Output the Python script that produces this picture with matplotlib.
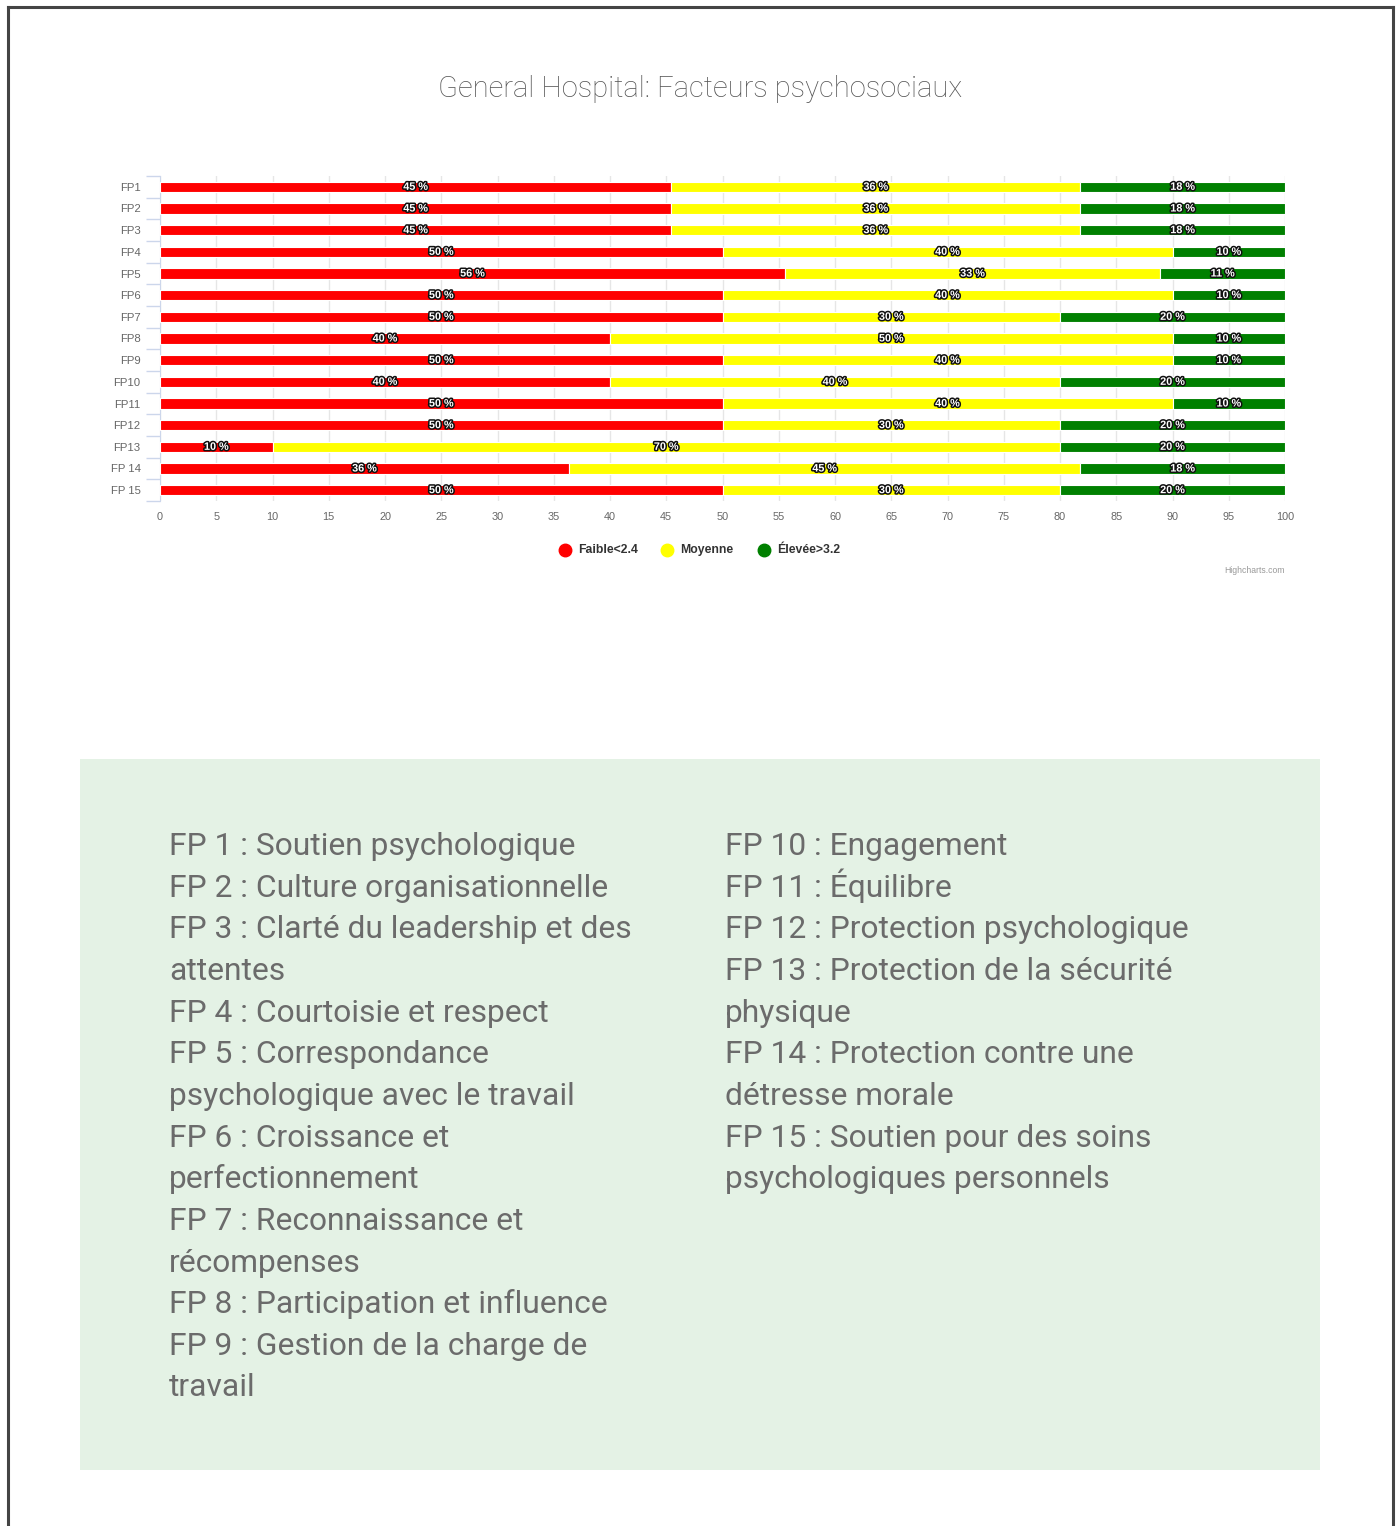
import matplotlib.pyplot as plt
import matplotlib.patheffects as pe
from matplotlib.lines import Line2D
from matplotlib.patches import Rectangle
import numpy as np

W, H = 1397, 1526

categories = ["FP1", "FP2", "FP3", "FP4", "FP5", "FP6", "FP7", "FP8", "FP9",
              "FP10", "FP11", "FP12", "FP13", "FP 14", "FP 15"]
faible = [45.45, 45.45, 45.45, 50, 55.56, 50, 50, 40, 50, 40, 50, 50, 10, 36.36, 50]
moyenne = [36.36, 36.36, 36.36, 40, 33.33, 40, 30, 50, 40, 40, 40, 30, 70, 45.45, 30]
elevee = [18.18, 18.18, 18.18, 10, 11.11, 10, 20, 10, 10, 20, 10, 20, 20, 18.18, 20]

series_names = ["Faible<2.4", "Moyenne", "Élevée>3.2"]
series_colors = ["#ff0000", "#ffff00", "#008000"]

left_notes = ["FP 1 : Soutien psychologique",
              "FP 2 : Culture organisationnelle",
              "FP 3 : Clarté du leadership et des",
              "attentes",
              "FP 4 : Courtoisie et respect",
              "FP 5 : Correspondance",
              "psychologique avec le travail",
              "FP 6 : Croissance et",
              "perfectionnement",
              "FP 7 : Reconnaissance et",
              "récompenses",
              "FP 8 : Participation et influence",
              "FP 9 : Gestion de la charge de",
              "travail"]
right_notes = ["FP 10 : Engagement",
               "FP 11 : Équilibre",
               "FP 12 : Protection psychologique",
               "FP 13 : Protection de la sécurité",
               "physique",
               "FP 14 : Protection contre une",
               "détresse morale",
               "FP 15 : Soutien pour des soins",
               "psychologiques personnels"]


def fx(x):
    return x / W


def fy(y):
    return 1 - y / H


fig = plt.figure(figsize=(W / 100, H / 100), dpi=100)
fig.patch.set_facecolor("white")

# page border
for xs, ys in [([8, 8], [7, H]), ([8, 1393], [7, 7]), ([1393, 1393], [7, H])]:
    fig.add_artist(Line2D([fx(v) for v in xs], [fy(v) for v in ys],
                          color="#444444", lw=2.2))

# chart
ax = fig.add_axes([fx(160), fy(501), fx(1285) - fx(160), (501 - 176) / H])
y = np.arange(len(categories))
data = [faible, moyenne, elevee]
lefts = np.zeros(len(categories))
for vals, name, col in zip(data, series_names, series_colors):
    vals = np.array(vals)
    ax.barh(y, vals, left=lefts, height=0.48, color=col, edgecolor="white",
            linewidth=0.8, label=name, zorder=3)
    for yi, (l, v) in enumerate(zip(lefts, vals)):
        t = ax.text(l + v / 2, yi, f"{v:.0f} %", ha="center", va="center",
                    fontsize=7.8, fontweight="bold", color="white",
                    family="Liberation Sans", zorder=5)
        t.set_path_effects([pe.withStroke(linewidth=2.2, foreground="#111111")])
    lefts = lefts + vals

ax.set_xlim(0, 100)
ax.set_ylim(len(categories) - 0.5, -0.5)
ax.set_xticks(np.arange(0, 101, 5))
ax.set_yticks(y)
ax.set_yticklabels(categories)
ax.set_yticks(np.arange(-0.5, len(categories)), minor=True)
ax.tick_params(axis="y", which="major", length=0, pad=14, labelsize=8.2,
               labelcolor="#666666")
ax.tick_params(axis="y", which="minor", length=10, color="#ccd6eb", width=1)
ax.tick_params(axis="x", length=0, pad=8, labelsize=7.8, labelcolor="#666666")
for lab in ax.get_xticklabels() + ax.get_yticklabels():
    lab.set_family("Liberation Sans")
ax.grid(axis="x", color="#e6e6e6", lw=1, zorder=0)
for s in ["top", "right", "bottom"]:
    ax.spines[s].set_visible(False)
ax.spines["left"].set_color("#ccd6eb")

fig.text(fx(700), fy(89), "General Hospital: Facteurs psychosociaux",
         ha="center", va="center", fontsize=21, color="#555555",
         family="Roboto", fontweight="light")

# legend
legend_x = [565, 667, 764]
for lx, name, col in zip(legend_x, series_names, series_colors):
    fig.add_artist(Line2D([fx(lx)], [fy(550)], marker="o", markersize=9,
                          color=col, lw=0))
    fig.text(fx(lx + 13), fy(550), name, ha="left", va="center", fontsize=8.8,
             fontweight="bold", color="#333333", family="Liberation Sans")

fig.text(fx(1285), fy(571), "Highcharts.com", ha="right", va="center",
         fontsize=6.2, color="#999999", family="Liberation Sans")

# notes box
fig.add_artist(Rectangle((fx(80), fy(1470)), fx(1320) - fx(80), (1470 - 759) / H,
                         facecolor="#e4f2e5", edgecolor="none"))
step = 41.65
for i, line in enumerate(left_notes):
    fig.text(fx(169), fy(855 + i * step), line, ha="left", va="baseline",
             fontsize=22.9, color="#6b6b6b", family="Roboto")
for i, line in enumerate(right_notes):
    fig.text(fx(725), fy(855 + i * step), line, ha="left", va="baseline",
             fontsize=22.9, color="#6b6b6b", family="Roboto")

fig.savefig("out.png", dpi=100)
